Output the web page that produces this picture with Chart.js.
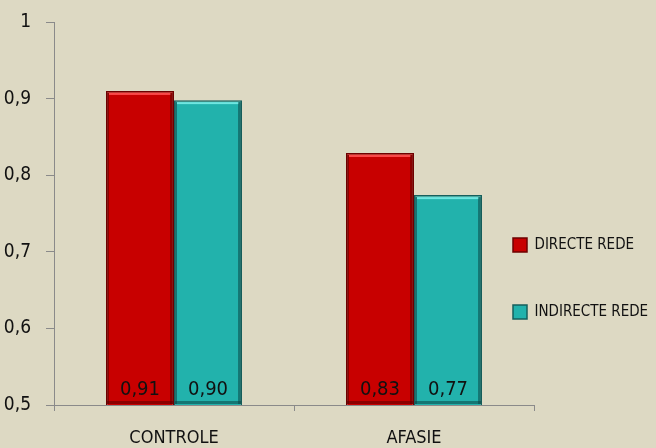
<!DOCTYPE html>
<html>
<head>
<meta charset="utf-8">
<script src="https://cdn.jsdelivr.net/npm/chart.js@4/dist/chart.umd.min.js"></script>
<style>
  html, body { margin: 0; padding: 0; background: #DDD9C3; }
  #wrap { width: 656px; height: 448px; }
</style>
</head>
<body>
<div id="wrap"><canvas id="c" width="656" height="448"></canvas></div>
<script>
const categories = ['CONTROLE', 'AFASIE'];
const seriesNames = ['DIRECTE REDE', 'INDIRECTE REDE'];
const directeRede = [0.91, 0.829];
const indirecteRede = [0.898, 0.774];
const yTicks = [0.5, 0.6, 0.7, 0.8, 0.9, 1];

const FONT = '"Liberation Sans Narrow", "DejaVu Sans Condensed", sans-serif';
const fmtTick = v => (v === 1 ? '1' : v.toFixed(1).replace('.', ','));
const fmtVal = v => v.toFixed(2).replace('.', ',');

const bevelAndLabels = {
  id: 'bevelAndLabels',
  afterDatasetsDraw(chart) {
    const ctx = chart.ctx;
    const base = chart.scales.y.bottom;
    const hi = ['rgba(255,80,80,0.9)', 'rgba(120,235,230,0.9)'];
    const dk = ['rgba(90,0,0,0.55)', 'rgba(10,70,70,0.55)'];
    ctx.save();
    chart.data.datasets.forEach((ds, i) => {
      chart.getDatasetMeta(i).data.forEach((bar) => {
        const p = bar.getProps(['x', 'y', 'width'], true);
        const l = p.x - p.width / 2, r = p.x + p.width / 2, t = p.y;
        ctx.fillStyle = hi[i];
        ctx.fillRect(l + 3, t + 2, r - l - 6, 2);
        ctx.fillStyle = dk[i];
        ctx.fillRect(r - 4, t + 2, 3, base - t - 3);
        ctx.fillRect(l + 1, base - 4, r - l - 2, 3);
        ctx.fillRect(l + 1, t + 2, 2, base - t - 3);
      });
    });
    ctx.font = '20px ' + FONT;
    ctx.fillStyle = '#111';
    ctx.textAlign = 'center';
    ctx.textBaseline = 'middle';
    chart.data.datasets.forEach((ds, i) => {
      chart.getDatasetMeta(i).data.forEach((bar, j) => {
        const p = bar.getProps(['x'], true);
        ctx.fillText(fmtVal(ds.data[j]), p.x, base - 15);
      });
    });
    ctx.restore();
  }
};

const legendPlace = {
  id: 'legendPlace',
  afterLayout(chart) {
    const l = chart.legend;
    const w = l.width, h = l.height;
    l.left = 461; l.right = l.left + w;
    l.top = 185.5; l.bottom = l.top + h;
  }
};

new Chart(document.getElementById('c'), {
  type: 'bar',
  data: {
    labels: categories,
    datasets: [
      { label: seriesNames[0], data: directeRede, backgroundColor: '#C80000', borderColor: '#6E0000', borderWidth: 1.5 },
      { label: seriesNames[1], data: indirecteRede, backgroundColor: '#22B2AC', borderColor: '#165F5C', borderWidth: 1.5 }
    ]
  },
  plugins: [bevelAndLabels, legendPlace],
  options: {
    responsive: false,
    animation: false,
    layout: { padding: { top: 22, right: 122, left: 0, bottom: 0 } },
    datasets: { bar: { categoryPercentage: 0.567, barPercentage: 1 } },
    plugins: {
      tooltip: { enabled: false },
      legend: {
        position: 'chartArea',
        align: 'start',
        labels: {
          boxWidth: 14, boxHeight: 14, padding: 52,
          color: '#111',
          font: { family: FONT, size: 15 }
        }
      }
    },
    scales: {
      x: {
        grid: { drawOnChartArea: false, drawTicks: true, tickLength: 6, color: '#8a8a8a', offset: true },
        border: { color: '#8a8a8a', width: 1 },
        ticks: { color: '#111', font: { family: FONT, size: 18 }, padding: 17 },
        afterFit(s) { s.height = 43; s.paddingLeft = 0; s.paddingRight = 0; }
      },
      y: {
        min: 0.5, max: 1,
        afterBuildTicks(s) { s.ticks = yTicks.map(v => ({ value: v })); },
        grid: { drawOnChartArea: false, drawTicks: true, tickLength: 8, color: '#8a8a8a' },
        border: { color: '#8a8a8a', width: 1 },
        ticks: { color: '#111', font: { family: FONT, size: 19 }, padding: 15, callback: v => fmtTick(v) },
        afterFit(s) { s.width = 54; s.paddingTop = 0; s.paddingBottom = 0; }
      }
    }
  }
});
</script>
</body>
</html>
